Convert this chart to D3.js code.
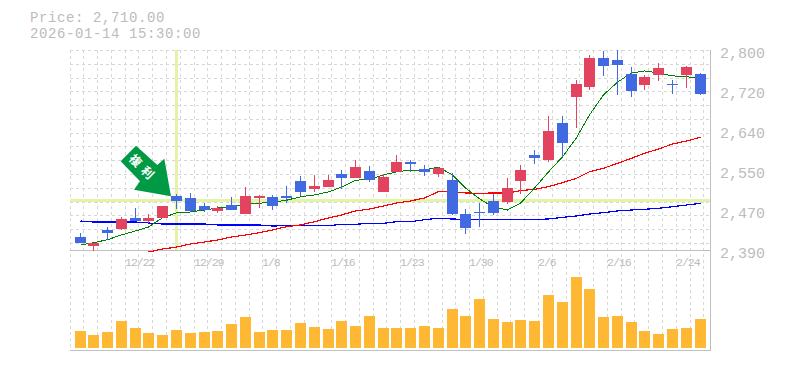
<!DOCTYPE html>
<html><head><meta charset="utf-8">
<script src="https://cdn.jsdelivr.net/npm/d3@7"></script>
<style>
html,body{margin:0;padding:0;background:#fff;overflow:hidden}
svg{display:block}
text{font-family:"Liberation Mono",monospace;fill:#bcbcbc}
</style></head><body>
<svg id="c" width="785" height="370"></svg>
<script>
const openP =[2417,2398,2431,2433,2456,2449,2456,2501,2497,2480,2470,2482,2464,2497,2499,2501,2531,2515,2519,2546,2538,2552,2509,2550,2570,2556,2546,2533,2464,2468,2490,2488,2531,2585,2574,2650,2704,2724,2784,2780,2751,2728,2749,2730,2749,2751];
const highP =[2425,2404,2437,2458,2476,2464,2480,2505,2507,2486,2480,2499,2519,2503,2503,2521,2542,2544,2544,2554,2574,2562,2546,2585,2574,2564,2560,2548,2474,2486,2505,2538,2564,2595,2665,2665,2738,2790,2798,2800,2765,2749,2773,2738,2767,2753];
const lowP  =[2404,2388,2411,2431,2449,2445,2456,2474,2468,2468,2466,2472,2464,2476,2472,2486,2501,2509,2519,2515,2538,2529,2509,2550,2550,2542,2540,2462,2423,2437,2462,2484,2505,2566,2570,2581,2640,2718,2747,2708,2704,2718,2736,2710,2722,2708];
const closeP=[2404,2404,2425,2454,2449,2456,2480,2490,2470,2472,2476,2472,2501,2501,2480,2497,2509,2521,2533,2538,2560,2533,2540,2570,2566,2550,2558,2464,2435,2466,2466,2517,2554,2579,2634,2609,2730,2784,2767,2769,2716,2745,2763,2728,2765,2710];
const maShort=[2400,2405,2411,2421,2429,2437,2456,2466,2468,2472,2476,2478,2484,2486,2488,2492,2499,2503,2509,2519,2533,2535,2544,2550,2554,2554,2560,2544,2517,2495,2478,2472,2486,2517,2550,2581,2620,2667,2708,2734,2753,2757,2753,2747,2745,2743];
const maMid=[null,null,null,null,null,2385.9,2392,2396,2402.3,2406.4,2410.5,2416.6,2420.8,2425.5,2431,2437.8,2441.3,2448,2455.6,2461.8,2470,2474,2480.2,2486.4,2490.5,2496.6,2509.5,2508.9,2506.9,2506.2,2506.9,2506.9,2511.6,2514.4,2519.8,2528,2537,2550.5,2557.5,2567.7,2578,2588.2,2597,2607.3,2613.5,2621];
const maLong=[2449.5,2447.4,2447.4,2447.4,2447.4,2445.4,2443.3,2443.3,2443.3,2443.3,2441.3,2441.3,2441.3,2441.3,2439.2,2439.8,2439.8,2439.8,2439.8,2442.7,2442.7,2444.7,2444.7,2448,2448,2452.1,2455,2453.5,2452.9,2452.9,2452.9,2452.9,2452.9,2452.9,2453.5,2457,2459.7,2463.8,2466.5,2470,2472,2473.4,2475.5,2478.8,2482.2,2485.7];
const volume=[17,13,16,27,20,15,13,18,15,16,17,24,31,16,18,18,25,21,19,27,22,32,20,20,20,22,20,39,32,49,29,26,28,27,53,46,71,59,31,32,26,17,14,19,20,29];
const dateLabels=["12/22","12/29","1/8","1/16","1/23","1/30","2/6","2/16","2/24"];
const dateIndex=[3,8,13,18,23,28,33,38,43];
const priceTicks=[2800,2718,2636,2554,2472,2390];
const headerLines=["Price: 2,710.00","2026-01-14 15:30:00"];
const crossIndex=7, crossPrice=2492;
const arrowLabel="複利";

const svg=d3.select("#c");
const idx=d3.range(openP.length);
const step=620/45;
const x=d3.scaleBand().domain(idx).range([75,75+46*step]);
const left=i=>Math.floor(x(i));
const mid=i=>left(i)+5.5;
const y=d3.scaleLinear().domain([2390,2800]).range([250,50]);
const yv=d3.scaleLinear().domain([0,71]).range([348,277]);

// grid
const grid=svg.append("g").attr("shape-rendering","crispEdges").attr("stroke","#d8d8d8").attr("stroke-dasharray","3,3").attr("fill","none");
const gx=[70,...idx.map(i=>Math.round(x(i)+8.3))];
grid.selectAll("line.v").data(gx).join("line").attr("class","v")
  .attr("x1",d=>d+.5).attr("x2",d=>d+.5).attr("y1",50).attr("y2",350);
const gy=d3.range(0,15).map(k=>Math.round(50+k*step));
grid.selectAll("line.h").data(gy).join("line").attr("class","h")
  .attr("x1",70).attr("x2",710).attr("y1",d=>d+.5).attr("y2",d=>d+.5);

// crosshair
const cross=svg.append("g").attr("fill","#e3f4a8").attr("shape-rendering","crispEdges");
cross.append("rect").attr("x",left(crossIndex)+4).attr("y",50).attr("width",3).attr("height",200);
cross.append("rect").attr("x",70).attr("y",Math.round(y(crossPrice))-1).attr("width",640).attr("height",3);

// frame
const frame=svg.append("g").attr("stroke","#bfbfbf").attr("shape-rendering","crispEdges");
[250,350].forEach(v=>frame.append("line").attr("x1",70).attr("x2",711).attr("y1",v+.5).attr("y2",v+.5).attr("stroke-width",1.5));
frame.append("line").attr("x1",710.5).attr("x2",710.5).attr("y1",50).attr("y2",351);

// moving averages
const lineOf=a=>d3.line().defined(i=>a[i]!=null).x(mid).y(i=>y(a[i]))(idx);
[[maLong,"#0000ff",1.2],[maMid,"#ff0000",1.2],[maShort,"#008000",1]].forEach(([a,c,w])=>{
  svg.append("path").attr("d",lineOf(a)).attr("fill","none").attr("stroke",c).attr("stroke-width",w).attr("shape-rendering","crispEdges");
});

// candles
const colorOf=i=>closeP[i]>=openP[i]?"#e2435f":"#4169e1";
const cg=svg.append("g").attr("shape-rendering","crispEdges");
cg.selectAll("rect.w").data(idx).join("rect").attr("class","w")
  .attr("x",i=>left(i)+5).attr("width",1)
  .attr("y",i=>Math.round(y(highP[i]))).attr("height",i=>Math.max(1,Math.round(y(lowP[i]))-Math.round(y(highP[i]))))
  .attr("fill",colorOf);
cg.selectAll("rect.b").data(idx).join("rect").attr("class","b")
  .attr("x",left).attr("width",11)
  .attr("y",i=>Math.round(y(Math.max(openP[i],closeP[i]))))
  .attr("height",i=>Math.max(1,Math.round(y(Math.min(openP[i],closeP[i])))-Math.round(y(Math.max(openP[i],closeP[i])))))
  .attr("fill",colorOf);

// volume
svg.append("g").attr("shape-rendering","crispEdges").selectAll("rect").data(idx).join("rect")
  .attr("x",left).attr("width",11).attr("y",i=>yv(volume[i])).attr("height",i=>yv(0)-yv(volume[i])).attr("fill","#ffb833");

// arrow
const tipX=left(crossIndex), tipY=y(2500);
const arrowShape=[[-35,-50.7],[-50.3,-35],[-31,-15],[-37,-6.7],[0,0],[-6.7,-37.7],[-13.7,-31.4]];
const ag=svg.append("g").attr("transform",`translate(${tipX},${tipY})`);
ag.append("path").attr("d",d3.line()(arrowShape)+"Z").attr("fill","#009944");
ag.append("text").attr("transform","translate(-27.5,-28) rotate(45)").attr("text-anchor","middle").attr("dy","0.38em")
  .style("font-family",'"Noto Sans CJK JP"').style("font-size","12px").style("font-weight","700").style("fill","#fff").style("letter-spacing","5px").text(arrowLabel);

// axes
const axisY=d3.axisRight(y).tickValues(priceTicks).tickSize(0).tickPadding(0)
  .tickFormat(v=>d3.format(",")(Math.round(v/10)*10));
const ay=svg.append("g").attr("transform","translate(720,0)").call(axisY);
ay.select(".domain").remove();
ay.selectAll("text").attr("dy",null).attr("y",7).style("font-size","15px").style("font-family",'"Liberation Mono"');

svg.append("g").selectAll("text").data(dateIndex).join("text")
  .attr("x",i=>Math.round(x(i)+8.3)).attr("y",266).style("font-size","11.5px").style("letter-spacing","-1px")
  .text((d,k)=>dateLabels[k]);

svg.append("g").selectAll("text").data(headerLines).join("text")
  .attr("x",30).attr("y",(d,k)=>22+k*16).style("font-size","14px").style("letter-spacing","0.6px").text(d=>d);
</script>
</body></html>
